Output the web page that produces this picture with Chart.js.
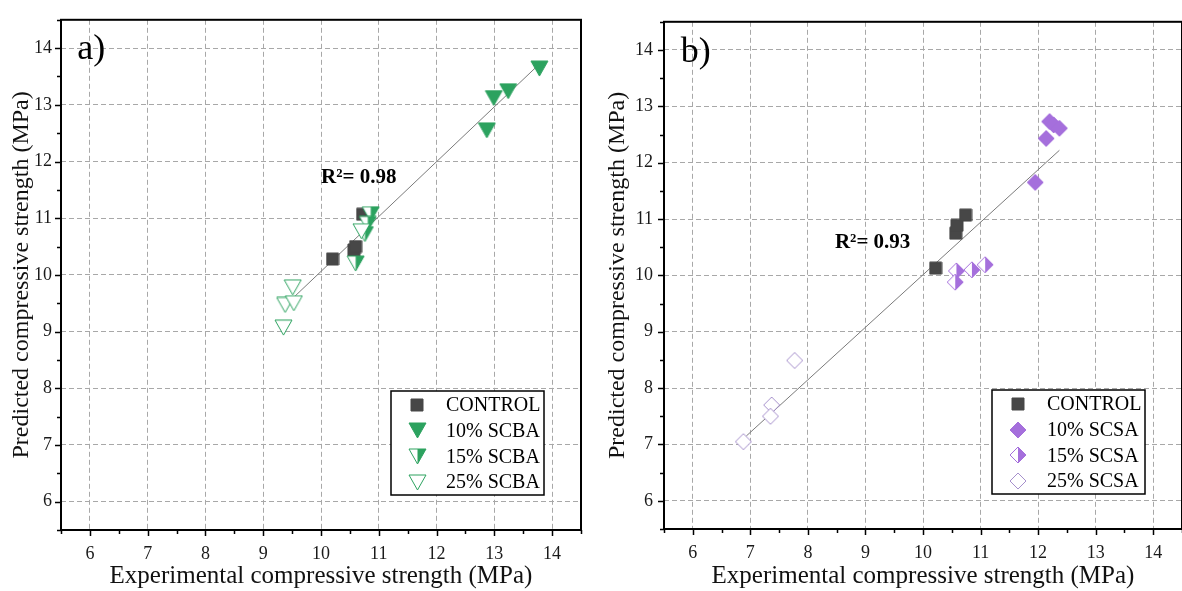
<!DOCTYPE html>
<html>
<head>
<meta charset="utf-8">
<script src="https://cdn.jsdelivr.net/npm/chart.js@4.4.1/dist/chart.umd.min.js"></script>
<style>
  html, body { margin: 0; padding: 0; background: #fff; overflow: hidden; width: 1182px; height: 591px; }
  #chartA { position: absolute; left: 0; top: 0; }
  #chartB { position: absolute; left: 590px; top: 0; }
</style>
</head>
<body>
<canvas id="chartA" width="590" height="591"></canvas>
<canvas id="chartB" width="600" height="591"></canvas>
<script>
// axis ticks shared by both panels
const axisTicks = [6, 7, 8, 9, 10, 11, 12, 13, 14]
const minorTicks = [5.5, 6.5, 7.5, 8.5, 9.5, 10.5, 11.5, 12.5, 13.5, 14.5]

const labelsA = ['CONTROL', '10% SCBA', '15% SCBA', '25% SCBA']
const labelsB = ['CONTROL', '10% SCSA', '15% SCSA', '25% SCSA']

// panel a) experimental (x) vs predicted (y), MPa
const aControlX = [10.20, 10.57, 10.60, 10.72]
const aControlY = [10.28, 10.44, 10.50, 11.07]
const a10X = [13.78, 13.24, 12.99, 12.87]
const a10Y = [13.64, 13.24, 13.12, 12.55]
const a15X = [10.86, 10.81, 10.76, 10.60]
const a15Y = [11.07, 10.90, 10.72, 10.20]
const a25X = [9.51, 9.38, 9.53, 9.35, 10.70]
const a25Y = [9.78, 9.47, 9.50, 9.07, 10.77]
const aFitX = [9.42, 13.78]
const aFitY = [9.50, 13.72]

// panel b)
const bControlX = [10.22, 10.57, 10.59, 10.74]
const bControlY = [10.13, 10.75, 10.89, 11.07]
const b10X = [12.20, 12.27, 12.37, 12.14, 11.95]
const b10Y = [12.73, 12.67, 12.61, 12.43, 11.65]
const b15X = [10.58, 10.56, 10.85, 11.08]
const b15Y = [10.08, 9.88, 10.10, 10.19]
const b25X = [7.77, 7.37, 7.35, 6.88]
const b25Y = [8.49, 7.70, 7.50, 7.05]
const bFitX = [6.93, 12.37]
const bFitY = [7.15, 12.22]

const SERIF = "'Liberation Serif', 'Times New Roman', serif"
const GREEN = '#2ca25f'
const PURPLE = '#a56fdc'
const PURPLE_LIGHT = '#a690cc'
const DARK = '#474747'

const zip = (xs, ys) => xs.map((x, i) => ({ x: x, y: ys[i] }))

// marker images: shape = square | tri | diamond, mode = full | half | open
function marker(shape, mode, color, size) {
  const c = document.createElement('canvas')
  const w = size + 2
  const h = shape === 'tri' ? Math.round(size * 0.87) + 2 : size + 2
  c.width = w
  c.height = h
  const g = c.getContext('2d')
  const path = () => {
    g.beginPath()
    if (shape === 'square') {
      g.rect(1, 1, size, size)
    } else if (shape === 'tri') {
      g.moveTo(1, 1)
      g.lineTo(w - 1, 1)
      g.lineTo(w / 2, h - 1)
      g.closePath()
    } else {
      g.moveTo(w / 2, 1)
      g.lineTo(w - 1, h / 2)
      g.lineTo(w / 2, h - 1)
      g.lineTo(1, h / 2)
      g.closePath()
    }
  }
  g.lineWidth = 1
  g.strokeStyle = color
  path()
  if (mode === 'full') {
    g.fillStyle = color
    g.fill()
  } else {
    g.fillStyle = '#fff'
    g.fill()
    if (mode === 'half') {
      g.save()
      g.beginPath()
      g.rect(w / 2, 0, w / 2, h)
      g.clip()
      path()
      g.fillStyle = color
      g.fill()
      g.restore()
      path()
    }
  }
  g.stroke()
  return c
}

function scatterSet(label, data, style, order) {
  return {
    label: label,
    data: data,
    pointStyle: style,
    pointRadius: 7,
    pointHoverRadius: 7,
    order: order
  }
}

function fitSet(data) {
  return {
    type: 'line',
    data: data,
    borderColor: '#7a7a7a',
    borderWidth: 1,
    pointRadius: 0,
    fill: false,
    order: 9,
    inLegend: false
  }
}

const framePlugin = {
  id: 'frame',
  afterDraw(chart, args, opts) {
    const { ctx, chartArea: a, scales } = chart
    const xs = scales.x, ys = scales.y
    ctx.save()

    // outer box
    ctx.strokeStyle = '#000'
    ctx.lineWidth = 2
    ctx.strokeRect(a.left, a.top, a.right - a.left, a.bottom - a.top)

    // outward ticks on left and bottom axes
    ctx.lineWidth = 1.5
    ctx.beginPath()
    axisTicks.forEach(v => {
      const px = Math.round(xs.getPixelForValue(v)) + 0.5
      ctx.moveTo(px, a.bottom - 1); ctx.lineTo(px, a.bottom + 6)
      const py = Math.round(ys.getPixelForValue(v)) + 0.5
      ctx.moveTo(a.left + 1, py); ctx.lineTo(a.left - 6, py)
    })
    minorTicks.forEach(v => {
      const px = Math.round(xs.getPixelForValue(v)) + 0.5
      ctx.moveTo(px, a.bottom); ctx.lineTo(px, a.bottom + 4)
      const py = Math.round(ys.getPixelForValue(v)) + 0.5
      ctx.moveTo(a.left, py); ctx.lineTo(a.left - 4, py)
    })
    ctx.stroke()

    // panel tag and R² label
    ctx.fillStyle = '#000'
    ctx.textBaseline = 'alphabetic'
    ctx.textAlign = 'left'
    ctx.font = '36px ' + SERIF
    ctx.fillText(opts.tag, xs.getPixelForValue(opts.tagPos[0]), ys.getPixelForValue(opts.tagPos[1]))
    ctx.font = 'bold 21px ' + SERIF
    ctx.fillText(opts.r2, xs.getPixelForValue(opts.r2Pos[0]), ys.getPixelForValue(opts.r2Pos[1]))

    // legend box
    const items = chart.data.datasets.filter(d => d.inLegend !== false)
    const bw = 153, bh = 104
    const bx = a.right - 37 - bw
    const by = a.bottom - 35 - bh
    ctx.fillStyle = '#fff'
    ctx.fillRect(bx, by, bw, bh)
    ctx.strokeStyle = '#000'
    ctx.lineWidth = 1.5
    ctx.strokeRect(bx, by, bw, bh)
    ctx.font = '20px ' + SERIF
    ctx.textBaseline = 'middle'
    items.forEach((d, i) => {
      const cy = by + 14 + i * 25.7
      const img = d.pointStyle
      ctx.drawImage(img, Math.round(bx + 26 - img.width / 2), Math.round(cy - img.height / 2))
      ctx.fillStyle = '#000'
      ctx.fillText(d.label, bx + 55, cy + 1)
    })
    ctx.restore()
  }
}

function buildChart(id, p) {
  return new Chart(document.getElementById(id), {
    type: 'scatter',
    data: { datasets: p.datasets },
    options: {
      responsive: false,
      animation: false,
      layout: { padding: { top: p.top, right: p.right, left: 0, bottom: 0 } },
      plugins: {
        legend: { display: false },
        tooltip: { enabled: false },
        frame: p.frame
      },
      scales: {
        x: {
          type: 'linear',
          min: 5.5,
          max: 14.5,
          afterBuildTicks: s => { s.ticks = axisTicks.map(v => ({ value: v })) },
          afterFit: s => { s.height = p.xh },
          grid: { color: '#a8a8a8', lineWidth: 1, drawTicks: false },
          border: { display: false, dash: [5, 3] },
          ticks: { padding: 13, color: '#1a1a1a', font: { family: SERIF, size: 18 } },
          title: {
            display: true,
            text: 'Experimental compressive strength (MPa)',
            color: '#111',
            font: { family: SERIF, size: 25 },
            padding: { top: 0, bottom: 0 }
          }
        },
        y: {
          type: 'linear',
          min: 5.5,
          max: 14.5,
          afterBuildTicks: s => { s.ticks = axisTicks.map(v => ({ value: v })) },
          afterFit: s => { s.width = p.yw },
          grid: { color: '#a8a8a8', lineWidth: 1, drawTicks: false },
          border: { display: false, dash: [5, 3] },
          ticks: { padding: p.ypad, color: '#1a1a1a', font: { family: SERIF, size: 18 } },
          title: {
            display: true,
            text: 'Predicted compressive strength (MPa)',
            color: '#111',
            font: { family: SERIF, size: 24 },
            padding: { top: p.ytitle, bottom: 0 }
          }
        }
      }
    },
    plugins: [framePlugin]
  })
}

const sqr = marker('square', 'full', DARK, 12)
const triFull = marker('tri', 'full', GREEN, 17)
const triHalf = marker('tri', 'half', GREEN, 17)
const triOpen = marker('tri', 'open', GREEN, 17)
const diaFull = marker('diamond', 'full', PURPLE, 16)
const diaHalf = marker('diamond', 'half', PURPLE, 16)
const diaOpen = marker('diamond', 'open', PURPLE_LIGHT, 16)

buildChart('chartA', {
  top: 9, right: 9, xh: 61, yw: 61, ypad: 9, ytitle: 7,
  frame: { tag: 'a)', tagPos: [5.78, 13.81], r2: 'R²= 0.98', r2Pos: [10.0, 11.62] },
  datasets: [
    scatterSet(labelsA[0], zip(aControlX, aControlY), sqr, 4),
    scatterSet(labelsA[1], zip(a10X, a10Y), triFull, 3),
    scatterSet(labelsA[2], zip(a15X, a15Y), triHalf, 2),
    scatterSet(labelsA[3], zip(a25X, a25Y), triOpen, 1),
    fitSet(zip(aFitX, aFitY))
  ]
})

buildChart('chartB', {
  top: 8, right: 6, xh: 62, yw: 74, ypad: 11, ytitle: 13,
  frame: { tag: 'b)', tagPos: [5.79, 13.79], r2: 'R²= 0.93', r2Pos: [8.47, 10.48] },
  datasets: [
    scatterSet(labelsB[0], zip(bControlX, bControlY), sqr, 4),
    scatterSet(labelsB[1], zip(b10X, b10Y), diaFull, 3),
    scatterSet(labelsB[2], zip(b15X, b15Y), diaHalf, 2),
    scatterSet(labelsB[3], zip(b25X, b25Y), diaOpen, 1),
    fitSet(zip(bFitX, bFitY))
  ]
})
</script>
</body>
</html>
